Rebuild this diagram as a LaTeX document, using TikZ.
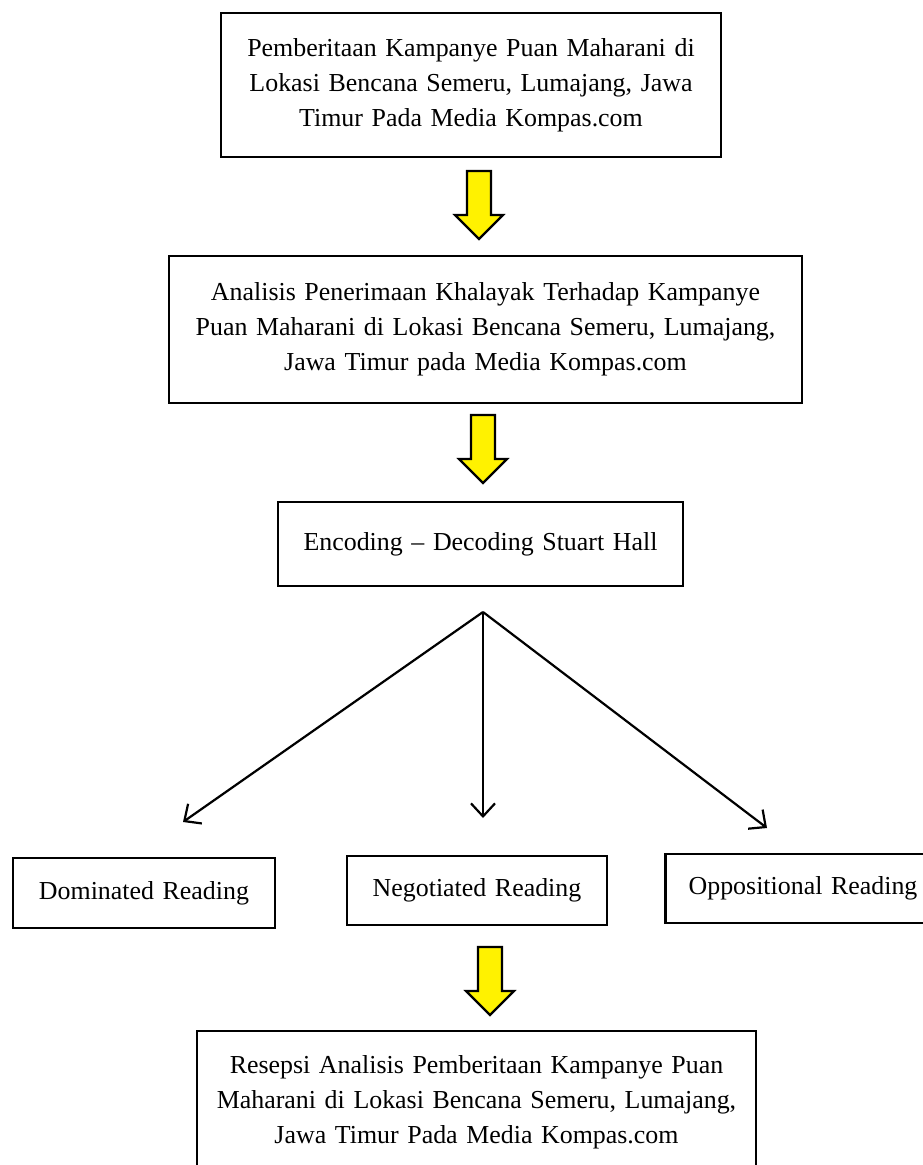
\documentclass[tikz,border=0pt]{standalone}
\usepackage{fontspec}
\setmainfont{Liberation Serif}
\usetikzlibrary{arrows.meta}

\tikzset{
  kotak/.style={draw, line width=2.4pt, align=center, inner sep=0pt,
    font=\fontsize{25.9}{35}\selectfont},
  panah/.style={line width=2.2pt, -{Straight Barb[length=13pt,width=24pt]}},
  kuning/.pic={\draw[line width=2.2pt, fill=yellow, line join=miter]
    (-12,0) -- (12,0) -- (12,44) -- (24,44) -- (0,68) -- (-24,44) -- (-12,44) -- cycle;}
}

\begin{document}
\begin{tikzpicture}[x=1pt,y=-1pt]
\useasboundingbox (0,0) rectangle (922,1165);
\node[kotak, text width=500pt, minimum height=144pt] (berita) at (471,85)
  {Pemberitaan Kampanye Puan Maharani di\\Lokasi Bencana Semeru, Lumajang, Jawa\\Timur Pada Media Kompas.com};
\node[kotak, text width=633pt, minimum height=147pt] (analisis) at (485.5,329.5)
  {Analisis Penerimaan Khalayak Terhadap Kampanye\\Puan Maharani di Lokasi Bencana Semeru, Lumajang,\\Jawa Timur pada Media Kompas.com};
\node[kotak, text width=405pt, minimum height=84pt] (hall) at (480.5,544)
  {Encoding -- Decoding Stuart Hall};
\node[kotak, text width=262pt, minimum height=70pt] (dominan) at (144,893) {Dominated Reading};
\node[kotak, text width=260pt, minimum height=69pt] (negosiasi) at (477,890.5) {Negotiated Reading};
\node[kotak, text width=275pt, minimum height=69pt] (oposisi) at (803,888.5) {Oppositional Reading};
\node[kotak, text width=559pt, anchor=north, inner ysep=24pt] (resepsi) at (476.5,1030)
  {Resepsi Analisis Pemberitaan Kampanye Puan\\Maharani di Lokasi Bencana Semeru, Lumajang,\\Jawa Timur Pada Media Kompas.com\rule[-120pt]{0pt}{120pt}};

\pic at (479,171) {kuning};
\pic at (483,415) {kuning};
\pic at (490,947) {kuning};

\coordinate (cabang) at (483,612);
\coordinate (tdom) at (183,822);
\coordinate (tneg) at (483,818);
\coordinate (topp) at (767,828);
\draw[panah] (cabang) -- (tdom);
\draw[panah] (cabang) -- (tneg);
\draw[panah] (cabang) -- (topp);
\end{tikzpicture}
\end{document}
